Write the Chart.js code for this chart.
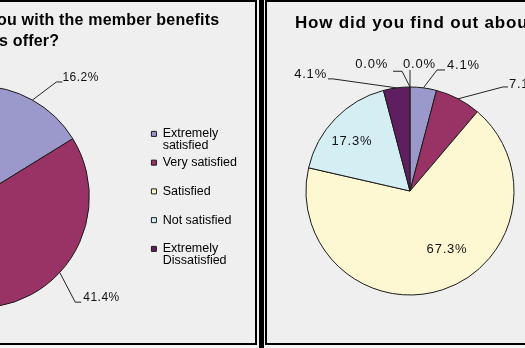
<!DOCTYPE html>
<html>
<head>
<meta charset="utf-8">
<script src="https://cdn.jsdelivr.net/npm/chart.js@4.4.1/dist/chart.umd.min.js"></script>
<style>
    html, body { margin: 0; padding: 0; width: 525px; height: 348px; overflow: hidden; background: #f4f4f4; }
    .panel { position: absolute; top: 0; height: 341px; border: 2px solid #000; background: #efefef; }
    #panel-left { left: -200px; width: 453px; }
    #panel-right { left: 265px; width: 340px; }
    #divider { position: absolute; left: 259px; top: 0; width: 5px; height: 348px; background: #000; }
    canvas { position: absolute; }
    #chart-left { left: -198px; top: 2px; }
    #chart-right { left: 267px; top: 2px; }
    .title { position: absolute; font-family: "Liberation Sans", Arial, sans-serif; font-weight: bold; color: #000; white-space: nowrap; }
</style>
</head>
<body>
<div class="panel" id="panel-left"></div>
<div id="divider"></div>
<div class="panel" id="panel-right"></div>

<canvas id="chart-left" width="452" height="340"></canvas>
<canvas id="chart-right" width="300" height="340"></canvas>

<div class="title" style="left:-3px; top:9px; font-size:16px; line-height:21px; letter-spacing:0.2px;">ou with the member benefits</div>
<div class="title" style="left:-1px; top:30px; font-size:16px; line-height:21px; letter-spacing:0.2px;">s offer?</div>
<div class="title" style="left:295px; top:13px; font-size:17px; line-height:20px; letter-spacing:0.8px;">How did you find out abou</div>

<script>
// data (left pie: only the first two slices are visible)
const satisfactionLabels = ['Extremely satisfied', 'Very satisfied', 'Satisfied', 'Not satisfied', 'Extremely Dissatisfied'];
const satisfactionValues = [16.2, 41.4, 34.3, 6.1, 2.0];
const findOutValues = [4.1, 7.1, 67.3, 17.3, 4.1, 0.0, 0.0];

const sliceColors = ['#9b99cc', '#993366', '#fdf8d2', '#d4eef4', '#5f1e60', '#ff8080', '#0066cc'];

// where each percentage label sits: angle shift (deg), distance past the edge, tail, text offsets
const leftPlaces = [
    { a: 5, d: 28, t: 6, dx: 0, dy: -1 },
    { a: 4.5, d: 32, t: 6, dx: 2, dy: -1 },
    { a: 0, d: 25, t: -6, dx: 1, dy: 0 },
    { a: 0, d: 25, t: -6, dx: 1, dy: 0 },
    { a: 0, d: 25, t: -6, dx: 1, dy: 0 }
];
const rightPlaces = [
    { a: 5.2, d: 20, t: 8, dx: 2, dy: -1 },
    { a: 14.2, d: 35.5, t: 5, dx: 1, dy: 1 },
    { a: -14.1, d: -35 },
    { a: -3.3, d: -27.3 },
    { a: -27.1, d: 32, t: -5, dx: 1, dy: -1 },
    { a: -3.8, d: 16, t: -9, dx: 5, dy: -3 },
    { a: 0, d: 17, t: 0, dx: -7, dy: -2 }
];

function percentLabels(places, font, spacing) {
    return {
        id: 'percentLabels',
        afterDatasetsDraw(chart) {
            const ctx = chart.ctx;
            const values = chart.data.datasets[0].data;
            const arcs = chart.getDatasetMeta(0).data;
            ctx.save();
            ctx.font = font;
            ctx.letterSpacing = spacing;
            ctx.fillStyle = '#111';
            ctx.strokeStyle = '#222';
            ctx.lineWidth = 1;
            arcs.forEach((arc, i) => {
                const p = places[i];
                if (!p) return;
                const { x, y, startAngle, endAngle, outerRadius } =
                    arc.getProps(['x', 'y', 'startAngle', 'endAngle', 'outerRadius'], true);
                const mid = (startAngle + endAngle) / 2;
                const ang = mid + p.a * Math.PI / 180;
                const r = outerRadius + p.d;
                const ex = x + r * Math.cos(ang);
                const ey = y + r * Math.sin(ang);
                const text = values[i].toFixed(1) + '%';

                if (p.d < 0) {
                    ctx.textAlign = 'center';
                    ctx.textBaseline = 'middle';
                    ctx.fillText(text, ex, ey);
                    return;
                }

                const sx = x + outerRadius * Math.cos(mid);
                const sy = y + outerRadius * Math.sin(mid);
                ctx.beginPath();
                ctx.moveTo(sx, sy);
                ctx.lineTo(ex, ey);
                ctx.lineTo(ex + p.t, ey);
                ctx.stroke();

                const dir = p.t < 0 ? -1 : 1;
                ctx.textBaseline = 'alphabetic';
                ctx.textAlign = p.t < 0 ? 'right' : 'left';
                ctx.fillText(text, ex + p.t + dir * p.dx, ey + p.dy);
            });
            ctx.restore();
        }
    };
}

document.addEventListener("DOMContentLoaded", function () {

    const leftCanvas = document.getElementById('chart-left');

    new Chart(leftCanvas.getContext('2d'), {
        type: 'pie',
        data: {
            labels: satisfactionLabels,
            datasets: [{
                data: satisfactionValues,
                backgroundColor: sliceColors.slice(0, 5),
                borderColor: '#1b1b1b',
                borderWidth: 1,
                radius: 111
            }]
        },
        options: {
            responsive: false,
            animation: false,
            events: [],
            layout: { padding: { left: 8.25, right: 7, top: 50, bottom: 0 } },
            plugins: {
                tooltip: { enabled: false },
                legend: {
                    position: 'right',
                    labels: {
                        boxWidth: 5,
                        boxHeight: 5,
                        padding: 5,
                        color: '#000',
                        font: { family: '"Liberation Sans", Arial, sans-serif', size: 12.5, lineHeight: 0.95 },
                        generateLabels: function (chart) {
                            const items = Chart.overrides.doughnut.plugins.legend.labels.generateLabels(chart);
                            return items.map(item => {
                                const words = item.text.split(' ');
                                item.text = item.text.length > 14
                                    ? [words[0], words.slice(1).join(' ')]
                                    : [item.text, ''];
                                return item;
                            });
                        }
                    }
                }
            }
        },
        plugins: [percentLabels(leftPlaces, '12px "Liberation Sans", Arial, sans-serif', '0.5px')]
    });

    const rightCanvas = document.getElementById('chart-right');

    new Chart(rightCanvas.getContext('2d'), {
        type: 'pie',
        data: {
            datasets: [{
                data: findOutValues,
                backgroundColor: sliceColors,
                borderColor: '#1b1b1b',
                borderWidth: 1,
                radius: 104
            }]
        },
        options: {
            responsive: false,
            animation: false,
            events: [],
            layout: { padding: { left: 0, right: 14, top: 38, bottom: 0 } },
            plugins: {
                tooltip: { enabled: false },
                legend: { display: false }
            }
        },
        plugins: [percentLabels(rightPlaces, '13px "Liberation Sans", Arial, sans-serif', '0.8px')]
    });
});
</script>
</body>
</html>
